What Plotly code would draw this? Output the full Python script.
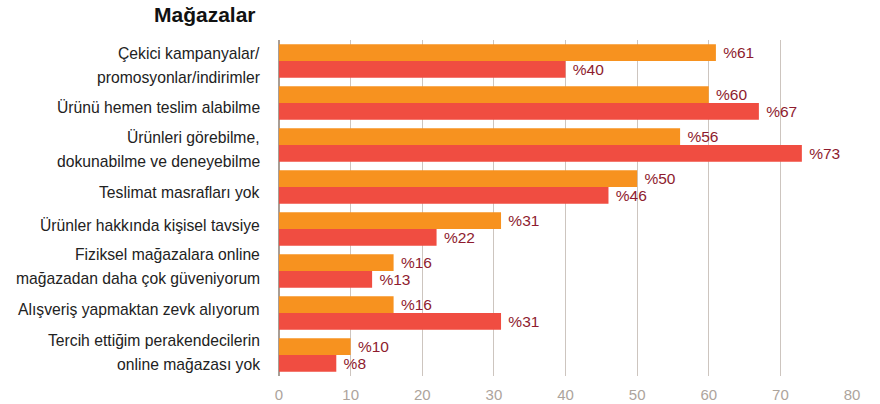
import plotly.graph_objects as go

# Survey categories (reasons for preferring physical stores)
categories = [
    "Çekici kampanyalar/\npromosyonlar/indirimler",
    "Ürünü hemen teslim alabilme",
    "Ürünleri görebilme,\ndokunabilme ve deneyebilme",
    "Teslimat masrafları yok",
    "Ürünler hakkında kişisel tavsiye",
    "Fiziksel mağazalara online\nmağazadan daha çok güveniyorum",
    "Alışveriş yapmaktan zevk alıyorum",
    "Tercih ettiğim perakendecilerin\nonline mağazası yok",
]
series_orange = [61, 60, 56, 50, 31, 16, 16, 10]
series_red = [40, 67, 73, 46, 22, 13, 31, 8]
x_ticks = [0, 10, 20, 30, 40, 50, 60, 70, 80]

# Vertical nudge (px) of each category label block
label_nudge = [-4.5, -4.5, -4.5, -5.5, 4, 4.5, 4, 2.5]

ORANGE = "#F7921F"
RED = "#F04D41"
LABEL = "#8E1B2E"
GRID = "#CDC5BF"
TICK = "#ADA49C"
FONT = "Liberation Sans, Arial, Helvetica, sans-serif"

fig = go.Figure()
for vals, col in [(series_orange, ORANGE), (series_red, RED)]:
    fig.add_trace(go.Bar(
        y=categories, x=vals, orientation="h",
        marker=dict(color=col, line=dict(width=0)),
        text=[f" %{v}" for v in vals],
        textposition="outside",
        constraintext="none",
        cliponaxis=False,
        textfont=dict(color=LABEL, size=15.5, family=FONT),
        hoverinfo="skip",
    ))

# Category labels drawn line by line for wider line spacing
line_gap = 24
for cat, nudge in zip(categories, label_nudge):
    lines = cat.split("\n")
    n = len(lines)
    for i, ln in enumerate(lines):
        off = ((n - 1) / 2 - i) * line_gap
        fig.add_annotation(
            x=0, xref="paper", y=cat, yref="y",
            text=ln, showarrow=False,
            xanchor="right", yanchor="middle",
            xshift=-17, yshift=off + nudge,
            font=dict(size=15.7, color="#222222", family=FONT),
        )

fig.add_annotation(
    x=0, xref="paper", y=1, yref="paper",
    text="<b>Mağazalar</b>", showarrow=False,
    xanchor="right", yanchor="middle",
    xshift=-21, yshift=26,
    font=dict(size=21, color="#111111", family=FONT),
)

n_cat = len(categories)
fig.update_layout(
    width=880, height=404,
    margin=dict(l=279, r=28, t=40, b=28, autoexpand=False),
    paper_bgcolor="white", plot_bgcolor="white",
    barmode="group", bargap=0.2, bargroupgap=0,
    showlegend=False,
    font=dict(family=FONT),
    xaxis=dict(
        range=[0, 80], tickvals=x_ticks, ticktext=[str(t) for t in x_ticks],
        showgrid=True, gridcolor=GRID, gridwidth=1,
        zeroline=True, zerolinecolor="#A89E96", zerolinewidth=1.5,
        showline=False, ticks="", ticklabelstandoff=8,
        tickfont=dict(size=15, color=TICK, family=FONT),
        automargin=False,
        fixedrange=True,
    ),
    yaxis=dict(
        type="category",
        categoryorder="array", categoryarray=categories,
        range=[n_cat - 0.5, -0.5], autorange=False,
        showticklabels=False,
        showgrid=False, zeroline=False, showline=False, ticks="",
        automargin=False,
        fixedrange=True,
    ),
)

fig.write_html("out.html")
